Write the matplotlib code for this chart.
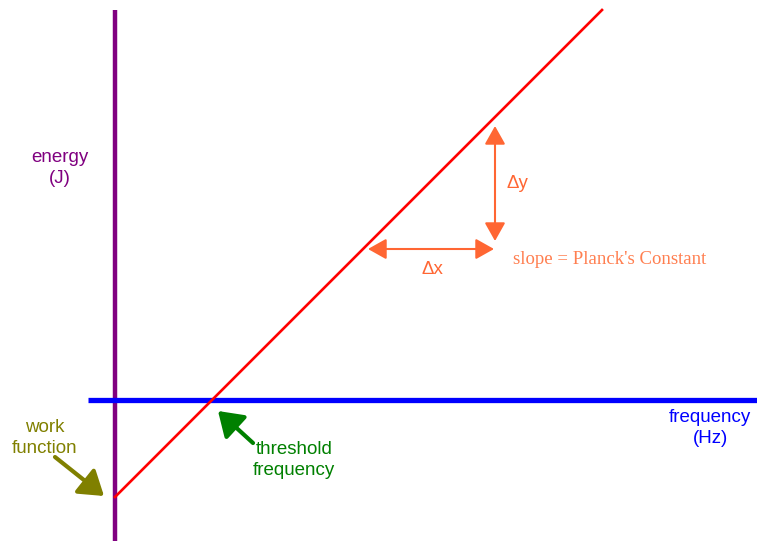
import matplotlib.pyplot as plt

# diagram coordinates (pixel-like units, y grows downward)
energy_axis_x = [115, 115]
energy_axis_y = [10, 541]
freq_axis_x = [88, 757]
freq_axis_y = [400, 400]
line_x = [115, 602]   # red photoelectric line
line_y = [497, 10]

dx_arrow = [(368, 249), (494, 249)]
dy_arrow = [(495, 126), (495, 241)]
work_arrow = [(55, 457), (104, 496)]
threshold_arrow = [(253, 443), (218, 411)]

fig = plt.figure(figsize=(7.57, 5.41), dpi=100)
ax = fig.add_axes([0, 0, 1, 1])
ax.set_xlim(0, 757)
ax.set_ylim(541, 0)
ax.axis('off')

# axes of the diagram
ax.plot(energy_axis_x, energy_axis_y, color='#800080', lw=3.2, solid_capstyle='butt')
ax.plot(freq_axis_x, freq_axis_y, color='#0000ff', lw=3.8, solid_capstyle='butt')
ax.plot(line_x, line_y, color='#ff0000', lw=1.9)

# delta arrows
orange = '#ff6633'
for start, end in [dx_arrow, dy_arrow]:
    ax.annotate('', xy=end, xytext=start,
                arrowprops=dict(arrowstyle='<|-|>,head_length=0.8,head_width=0.45',
                                mutation_scale=14, color=orange, lw=1.5,
                                shrinkA=0, shrinkB=0))

# pointer arrows
ax.annotate('', xy=work_arrow[1], xytext=work_arrow[0],
            arrowprops=dict(arrowstyle='-|>,head_length=0.9,head_width=0.6',
                            mutation_scale=16, color='#808000', lw=3,
                            shrinkA=0, shrinkB=0))
ax.annotate('', xy=threshold_arrow[1], xytext=threshold_arrow[0],
            arrowprops=dict(arrowstyle='-|>,head_length=0.9,head_width=0.6',
                            mutation_scale=16, color='#008000', lw=3,
                            shrinkA=0, shrinkB=0))

# labels
font = 'Liberation Sans'
fs = 13.5
ls = 1.35
ax.text(60, 168, 'energy\n(J)', color='#800080', fontsize=fs, family=font,
        ha='center', va='center', linespacing=ls)
ax.text(710, 428, 'frequency\n(Hz)', color='#0000ff', fontsize=fs, family=font,
        ha='center', va='center', linespacing=ls)
ax.text(45, 438, 'work\nfunction', color='#808000', fontsize=fs, family=font,
        ha='center', va='center', linespacing=ls)
ax.text(294, 460, 'threshold\nfrequency', color='#008000', fontsize=fs, family=font,
        ha='center', va='center', linespacing=ls)
ax.text(517, 183, '\u0394y', color=orange, fontsize=fs, family=font,
        ha='center', va='center')
ax.text(432, 269, '\u0394x', color=orange, fontsize=fs, family=font,
        ha='center', va='center')
ax.text(513, 260, "slope = Planck's Constant", color='#ff7f50', fontsize=13.5,
        family='Liberation Serif', ha='left', va='center')

fig.savefig('out.png', dpi=100)
